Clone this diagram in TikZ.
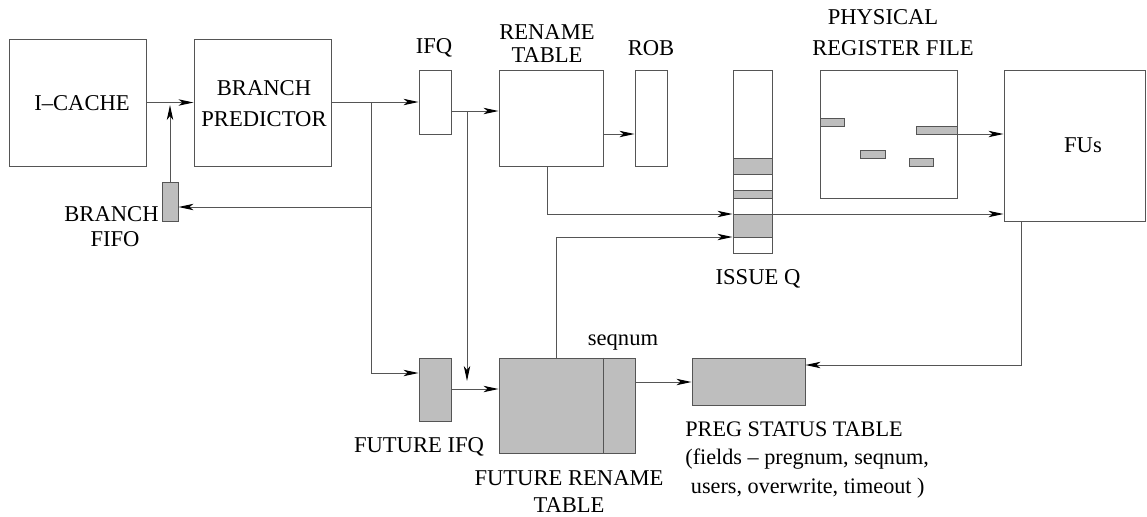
\documentclass[tikz,border=0pt]{standalone}
\usepackage{fontspec}
\setmainfont{LiberationSerif}[Extension=.ttf,UprightFont=*-Regular,BoldFont=*-Bold,Ligatures=TeX]
\usetikzlibrary{arrows.meta,fit,calc}
\definecolor{linec}{RGB}{85,85,85}
\definecolor{fillg}{RGB}{190,190,190}
\begin{document}
\begin{tikzpicture}[x=0.5pt,y=-0.5pt,
  box/.style={draw=linec,line width=0.5pt,inner sep=0pt},
  gbox/.style={box,fill=fillg},
  conn/.style={draw=linec,line width=0.5pt},
  arr/.style={conn,-{Stealth[length=7.5pt,width=3.2pt,inset=2pt,color=black]}},
  lbl/.style={font=\rmfamily\fontsize{11.3}{11.5}\selectfont,inner sep=0pt,align=center,text=black},
  slbl/.style={font=\rmfamily\fontsize{11.1}{14.3}\selectfont,inner sep=0pt,align=left,text=black}]
\useasboundingbox (0,0) rectangle (1147,516);
% boxes
\node[box,fit={(9,39)(146,166)}] (icache) {};
\node[box,fit={(194,39)(331,166)}] (bp) {};
\node[gbox,fit={(162,182)(178,221)}] (fifo) {};
\node[box,fit={(419,70)(451,134)}] (ifq) {};
\node[box,fit={(499,70)(603,166)}] (rt) {};
\node[box,fit={(635,70)(667,166)}] (rob) {};
\node[box,fit={(733,70)(772,253)}] (iq) {};
\node[box,fit={(820,70)(957,198)}] (prf) {};
\node[box,fit={(1004,70)(1145,221)}] (fus) {};
\node[gbox,fit={(419,358)(451,421)}] (fifq) {};
\node[gbox,fit={(499,358)(635,453)}] (frt) {};
\node[gbox,fit={(692,358)(805,405)}] (pst) {};
% issue queue bands
\draw[conn,fill=fillg] (733,158) rectangle (772,174);
\draw[conn,fill=fillg] (733,190) rectangle (772,198);
\draw[conn,fill=fillg] (733,214) rectangle (772,237);
% physical register file entries
\draw[conn,fill=fillg] (820,118) rectangle (844,126);
\draw[conn,fill=fillg] (860,150) rectangle (885,158);
\draw[conn,fill=fillg] (909,158) rectangle (933,166);
\draw[conn,fill=fillg] (916,126) rectangle (957,134);
% future rename table divider
\draw[conn] (frt.north -| 603,0) -- (frt.south -| 603,0);
% labels
\node[lbl] (licache) at (82,103) {I--CACHE};
\node[lbl,font=\rmfamily\fontsize{11.3}{15.5}\selectfont] (lbp) at (264,103.5) {BRANCH\\PREDICTOR};
\node[lbl] (lfus) at (1083,145) {FUs};
\node[lbl,anchor=east] (lfifo1) at (159,214) {BRANCH};
\node[lbl] (lfifo2) at (115,239) {FIFO};
\node[lbl] (lifq) at (434,48) {IFQ};
\node[lbl] (lrt1) at (547,32) {RENAME};
\node[lbl] (lrt2) at (547,55) {TABLE};
\node[lbl] (lrob) at (651,48) {ROB};
\node[lbl] (lprf1) at (883,17) {PHYSICAL};
\node[lbl] (lprf2) at (893,48) {REGISTER FILE};
\node[lbl] (liq) at (758,279) {ISSUE Q};
\node[lbl] (lseq) at (623,342) {seqnum};
\node[lbl] (lfifq) at (419,447) {FUTURE IFQ};
\node[lbl] (lfrt1) at (569,478) {FUTURE RENAME};
\node[lbl] (lfrt2) at (569,505) {TABLE};
\node[slbl,anchor=north west] (lpst) at (685,421) {PREG STATUS TABLE\\(fields -- pregnum, seqnum,\\\ users, overwrite, timeout )};
% junction coordinates
\coordinate (j1) at (371,102);
\coordinate (j2) at (467,111);
\coordinate (c1) at (170,105);
\coordinate (c2) at (467,381);
% connectors
\draw[arr] (icache.east) -- (bp.west);
\draw[arr] (fifo.north) -- (c1);
\draw[arr] (bp.east |- ifq.west) -- (ifq.west);
\draw[arr] (j1) |- (fifo.east |- 0,207);
\draw[arr] (j1) |- (fifq.west |- 0,373);
\draw[arr] (ifq.east |- 0,111) -- (rt.west |- 0,111);
\draw[arr] (j2) -- (c2);
\draw[arr] (fifq.east |- 0,389) -- (frt.west |- 0,389);
\draw[arr] (rt.east |- 0,134) -- (rob.west |- 0,134);
\draw[arr] (rt.south -| 547,0) |- (iq.west |- 0,214);
\draw[arr] (iq.east |- 0,214) -- (fus.west |- 0,214);
\draw[arr] (frt.north -| 556,0) |- (iq.west |- 0,237);
\draw[arr] (prf.east |- 0,134) -- (fus.west |- 0,134);
\draw[arr] (frt.east |- 0,382) -- (pst.west |- 0,382);
\draw[arr] (fus.south -| 1021,0) |- (pst.east |- 0,365);
\end{tikzpicture}
\end{document}
